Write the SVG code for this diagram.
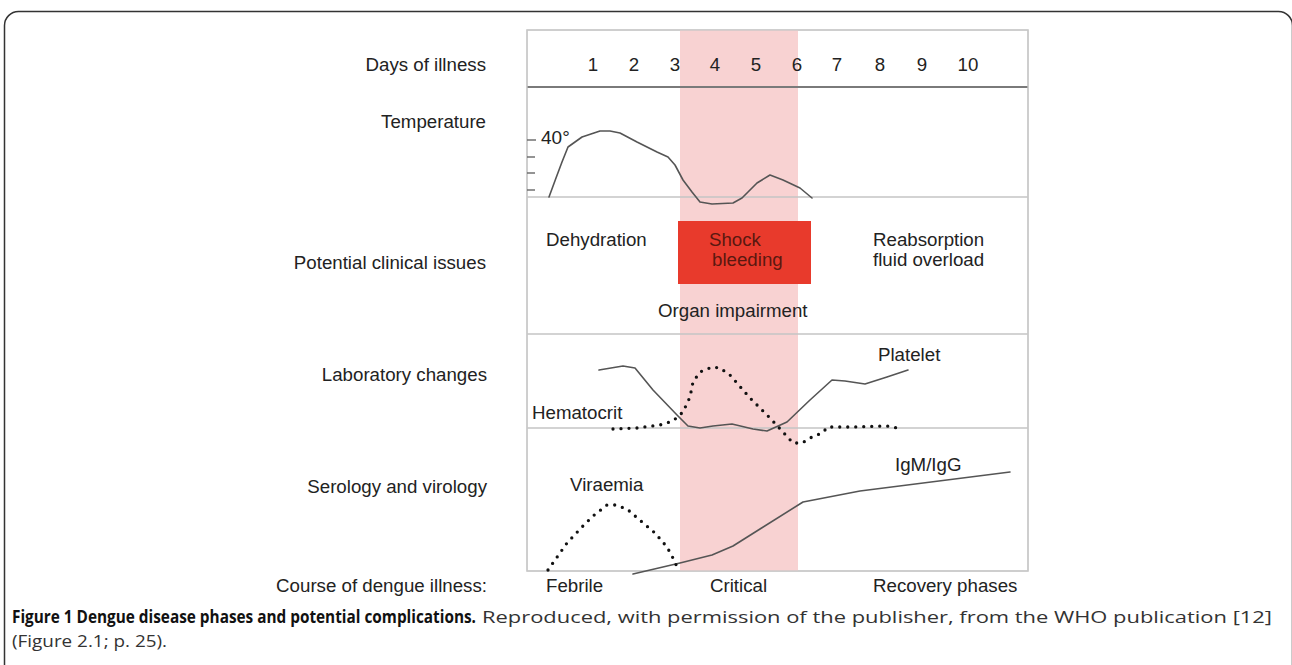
<svg xmlns="http://www.w3.org/2000/svg" width="1292" height="665" viewBox="0 0 1292 665">
<style>
.lbl{font-family:"Liberation Sans",Arial,sans-serif;font-size:18.7px;fill:#222}
.r{text-anchor:end}
.grid{stroke:#c4c4c4;stroke-width:1.3;fill:none}
.curve{stroke:#555;stroke-width:1.6;fill:none;stroke-linejoin:round;stroke-linecap:round}
.dots{stroke:#111;stroke-width:3.3;fill:none;stroke-dasharray:0 8;stroke-linecap:round}
.cap{font-family:"Open Sans","Liberation Sans",sans-serif;font-size:17px}
</style>
<rect x="0" y="0" width="1292" height="665" fill="#fff"/>
<rect id="frame" x="4.5" y="11.5" width="1288" height="720" rx="14" fill="none" stroke="#333" stroke-width="1.5"/>

<g id="chart-bg">
  <rect x="527" y="30" width="501" height="541" fill="#fff" stroke="#c8c8c8" stroke-width="1.3"/>
  <rect id="critical-band" x="680" y="30" width="118" height="541" fill="#f8d2d2"/>
  <line x1="527" y1="87" x2="1028" y2="87" stroke="#7a7a7a" stroke-width="2"/>
  <line class="grid" x1="527" y1="197" x2="1028" y2="197"/>
  <line class="grid" x1="527" y1="334" x2="1028" y2="334"/>
  <line class="grid" x1="527" y1="428" x2="1028" y2="428"/>
  <rect x="527" y="30" width="501" height="541" fill="none" stroke="#c8c8c8" stroke-width="1.3"/>
</g>

<g id="row-labels">
  <text class="lbl r" x="486" y="71">Days of illness</text>
  <text class="lbl r" x="486" y="128">Temperature</text>
  <text class="lbl r" x="486" y="269">Potential clinical issues</text>
  <text class="lbl r" x="487" y="381">Laboratory changes</text>
  <text class="lbl r" x="487" y="493">Serology and virology</text>
  <text class="lbl r" x="487" y="592">Course of dengue illness:</text>
</g>

<g id="days" class="lbl" text-anchor="middle">
  <text x="593" y="71">1</text>
  <text x="634" y="71">2</text>
  <text x="675" y="71">3</text>
  <text x="715" y="71">4</text>
  <text x="756" y="71">5</text>
  <text x="797" y="71">6</text>
  <text x="837" y="71">7</text>
  <text x="880" y="71">8</text>
  <text x="922" y="71">9</text>
  <text x="968" y="71">10</text>
</g>

<g id="temperature">
  <g stroke="#666" stroke-width="1.4">
    <line x1="527" y1="140" x2="536" y2="140"/>
    <line x1="527" y1="157" x2="535" y2="157"/>
    <line x1="527" y1="173" x2="535" y2="173"/>
    <line x1="527" y1="190" x2="535" y2="190"/>
  </g>
  <text class="lbl" x="541" y="144" style="font-size:19px">40°</text>
  <polyline class="curve" points="549,197 556,178 562,162 568,147 582,137 600,131 610,131 620,133 637,142 657,152 668,157 675,165 683,180 692,192 700,202 712,204 733,203 742,198 757,183 770,175 783,180 800,188 812,198"/>
</g>

<g id="clinical">
  <text class="lbl" x="546" y="246">Dehydration</text>
  <g id="shock-box">
    <rect x="678" y="221" width="133" height="63" fill="#e83a2c"/>
    <text class="lbl" x="709" y="246" style="fill:#5a1810">Shock</text>
    <text class="lbl" x="712" y="266" style="fill:#5a1810">bleeding</text>
  </g>
  <text class="lbl" x="873" y="246">Reabsorption</text>
  <text class="lbl" x="873" y="266">fluid overload</text>
  <text class="lbl" x="658" y="317">Organ impairment</text>
</g>

<g id="laboratory">
  <polyline class="curve" points="599,370 623,366 635,368 653,390 677,415 688,426 700,428 713,426 732,424 753,429 767,431 787,422 810,400 832,380 845,381 865,384 887,377 908,370"/>
  <polyline class="dots" points="613,429 637,428 660,425 673,421 683,412 690,397 693,382 700,372 712,367 720,368 730,375 750,398 770,418 783,432 793,443 802,443 812,437 822,433 828,427 853,427 887,426 902,429"/>
  <text class="lbl" x="878" y="361">Platelet</text>
  <text class="lbl" x="532" y="419">Hematocrit</text>
</g>

<g id="serology">
  <polyline class="curve" points="633,574 680,563 712,555 733,546 760,529 803,502 860,491 1010,472"/>
  <polyline class="dots" points="548,570 567,543 582,527 593,516 607,505 615,505 627,509 642,522 655,533 667,547 673,558 678,569"/>
  <text class="lbl" x="895" y="471">IgM/IgG</text>
  <text class="lbl" x="570" y="491">Viraemia</text>
</g>

<g id="phases">
  <text class="lbl" x="546" y="592">Febrile</text>
  <text class="lbl" x="710" y="592">Critical</text>
  <text class="lbl" x="873" y="592">Recovery phases</text>
</g>

<g id="caption">
  <text class="cap" x="12" y="623" font-weight="bold" fill="#111" textLength="464" lengthAdjust="spacingAndGlyphs">Figure 1 Dengue disease phases and potential complications.</text>
  <text class="cap" x="482" y="623" fill="#333" textLength="790" lengthAdjust="spacingAndGlyphs">Reproduced, with permission of the publisher, from the WHO publication [12]</text>
  <text class="cap" x="12" y="647" fill="#333" textLength="155" lengthAdjust="spacingAndGlyphs">(Figure 2.1; p. 25).</text>
</g>
</svg>
